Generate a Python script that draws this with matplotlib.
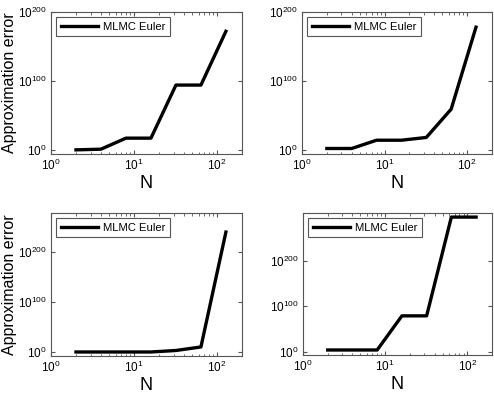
import numpy as np
import matplotlib.pyplot as plt

plt.rcParams["font.family"] = ["Liberation Sans", "DejaVu Sans"]
plt.rcParams["mathtext.fontset"] = "custom"
plt.rcParams["mathtext.rm"] = "Liberation Sans"
plt.rcParams["mathtext.it"] = "Liberation Sans"

# 数据：N 与各子图误差的数量级 (log10)
N = [2, 4, 8, 16, 32, 64, 128]
exp_1 = [0, 1, 17, 17, 94, 94, 172]
exp_2 = [2, 2, 14, 14, 18, 59, 178]
exp_3 = [0, 0, 0, 0, 3, 10, 239]
exp_4 = [4, 4, 4, 79, 79, 296, 296]
y_limits = [(-6, 200), (-6, 200), (-8, 277), (-7, 305)]
label = "MLMC Euler"

# 各子图位置 (像素: 左, 上, 右, 下)
boxes = [(51, 12, 242, 154), (302, 12, 492, 154),
         (51, 213, 242, 356), (303, 213, 492, 355)]
W, H = 494, 394

fig = plt.figure(figsize=(W / 100, H / 100), dpi=100)
series = [exp_1, exp_2, exp_3, exp_4]

for i, (e, lim, b) in enumerate(zip(series, y_limits, boxes)):
    l, t, r, bt = b
    ax = fig.add_axes([l / W, 1 - bt / H, (r - l) / W, (bt - t) / H])
    y = [10.0 ** v for v in e]
    ax.loglog(N, y, color="black", linewidth=2.4, label=label)
    ax.set_xlim(1, 200)
    ax.set_ylim(10.0 ** lim[0], 10.0 ** lim[1])
    ax.set_xticks([1, 10, 100])
    ax.set_xticklabels([r"$10^{0}$", r"$10^{1}$", r"$10^{2}$"])
    ax.set_yticks([1, 1e100, 1e200])
    ax.set_yticklabels([r"$10^{0}$", r"$10^{100}$", r"$10^{200}$"])
    ax.yaxis.set_minor_locator(plt.NullLocator())
    ax.tick_params(which="both", direction="in", top=True, right=True,
                   labelsize=8.5, color="#555555", pad=3)
    ax.tick_params(which="major", length=3)
    ax.tick_params(which="minor", length=1.8)
    for s in ax.spines.values():
        s.set_color("#555555")
        s.set_linewidth(0.8)
    ax.set_xlabel("N", fontsize=13, labelpad=1)
    if i % 2 == 0:
        ax.set_ylabel("Approximation error", fontsize=11.5)
        ax.yaxis.set_label_coords(-0.18, 0.5)
    leg = ax.legend(loc="upper left", fontsize=8.1, fancybox=False,
                    handlelength=3.3, handletextpad=0.5,
                    borderpad=0.4, borderaxespad=0.45, framealpha=1)
    leg.get_frame().set_edgecolor("#555555")
    leg.get_frame().set_linewidth(0.8)

fig.savefig("out.png", dpi=100)
